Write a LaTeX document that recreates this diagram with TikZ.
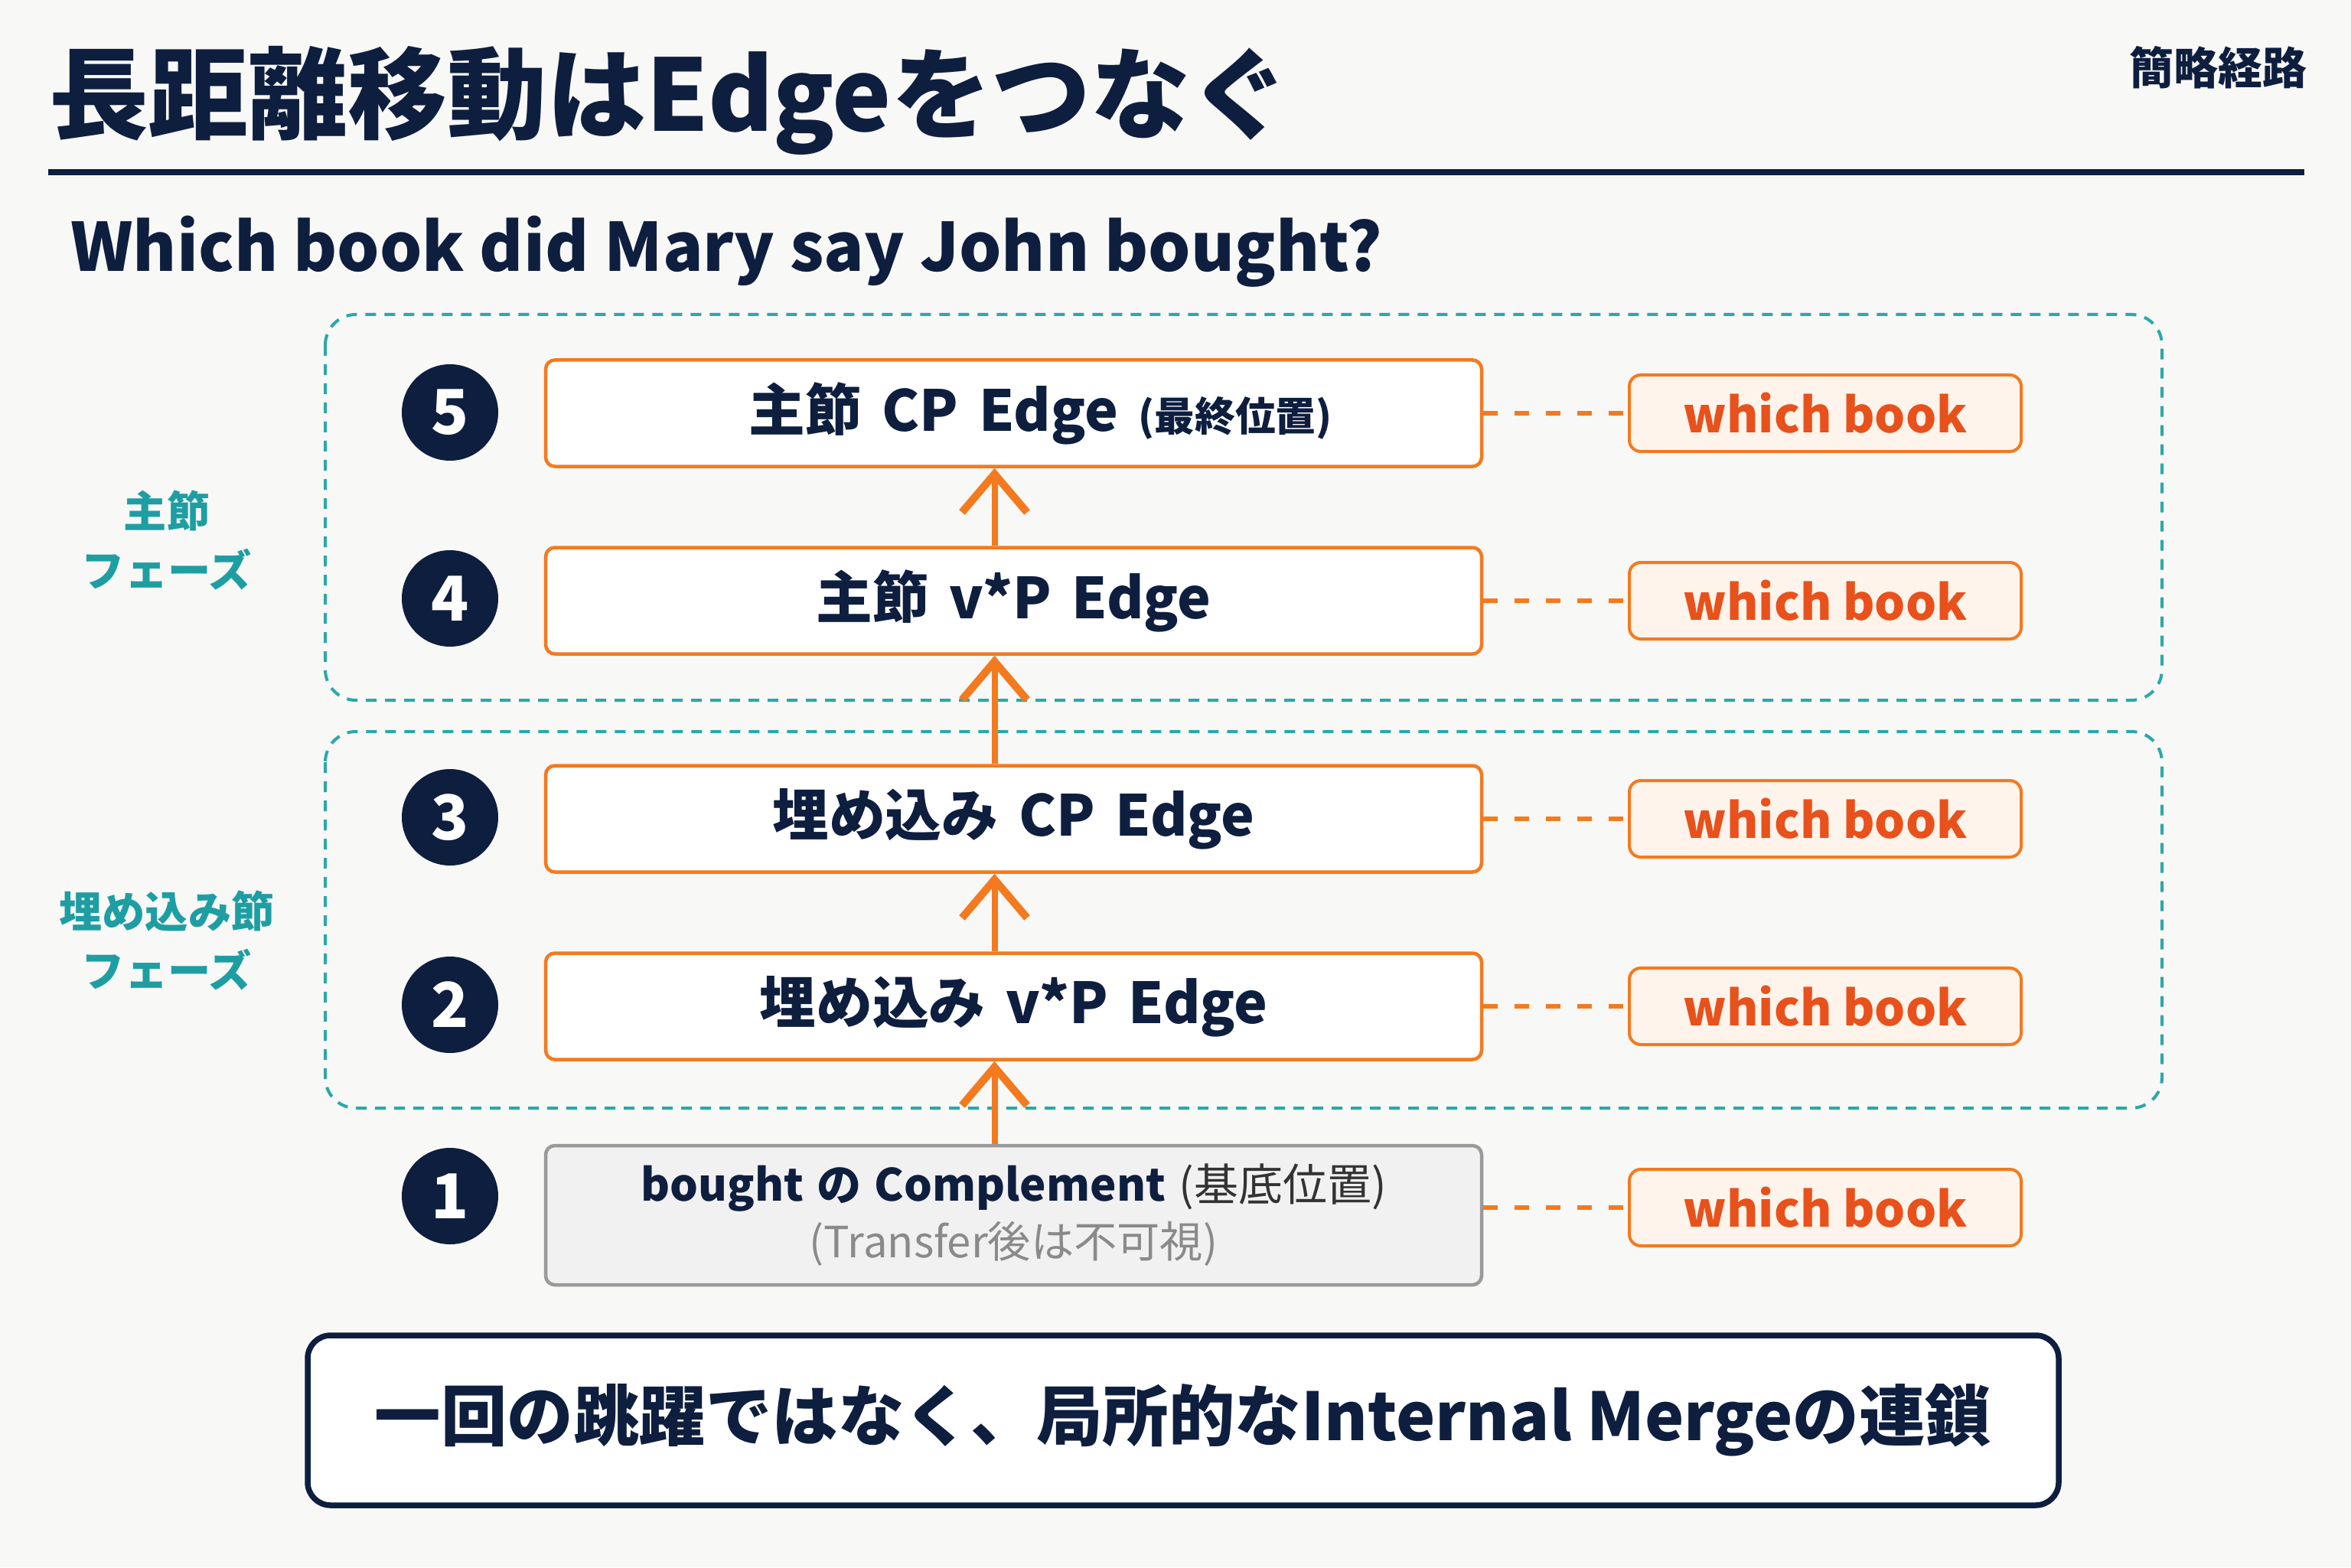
\documentclass[tikz,border=0pt]{standalone}
\usepackage{fontspec}
\setmainfont{Noto Sans CJK JP}
\usetikzlibrary{arrows.meta,positioning}

\definecolor{navy}{HTML}{0E1E3F}
\definecolor{edgeorange}{HTML}{F47A1F}
\definecolor{wbred}{HTML}{E8511B}
\definecolor{wbfill}{HTML}{FFF4EC}
\definecolor{phaseteal}{HTML}{1E9EA3}
\definecolor{dashteal}{HTML}{2BA8AB}
\definecolor{boxgrey}{HTML}{9A9A9A}
\definecolor{boxfill}{HTML}{F1F1F1}
\definecolor{textgrey}{HTML}{8A8A8A}
\definecolor{darkgrey}{HTML}{333333}
\definecolor{bgwhite}{HTML}{F8F8F6}

\tikzset{
  stepnum/.style={circle, fill=navy, text=white, minimum size=1.26cm, inner sep=0pt,
    font=\fontsize{23}{23}\selectfont\bfseries},
  edgebox/.style={draw=edgeorange, line width=0.045cm, rounded corners=0.12cm, fill=white,
    minimum width=12.23cm, minimum height=1.39cm, text=navy,
    font=\fontsize{21}{24}\selectfont\bfseries,
    execute at begin node={\spaceskip=0.36em plus 0.1em\relax}},
  basebox/.style={edgebox, draw=boxgrey, fill=boxfill, minimum height=1.82cm, align=center,
    font=\fontsize{16.5}{21}\selectfont\bfseries,
    execute at begin node={\spaceskip=0.3em plus 0.1em\relax}},
  wbbox/.style={draw=edgeorange, line width=0.04cm, fill=wbfill, rounded corners=0.15cm,
    minimum width=5.12cm, minimum height=1.0cm, text=wbred,
    font=\fontsize{18}{18}\selectfont\bfseries},
  phasebox/.style={draw=dashteal, line width=0.04cm, rounded corners=0.4cm,
    dash pattern=on 0.14cm off 0.11cm},
  phaselabel/.style={text=phaseteal, align=center, font=\fontsize{16}{22}\selectfont\bfseries},
  movearrow/.style={draw=edgeorange, line width=0.08cm,
    -{Straight Barb[length=0.5cm,width=0.85cm,line width=0.1cm]}},
  linkline/.style={draw=edgeorange, line width=0.06cm, dash pattern=on 0.19cm off 0.22cm},
}

\begin{document}
\begin{tikzpicture}
  \useasboundingbox (0,0) rectangle (30.72,20.48);
  \fill[bgwhite] (0,0) rectangle (30.72,20.48);

  % header
  \node[anchor=west, text=navy, font=\fontsize{37}{37}\selectfont\bfseries] (title) at (0.52,19.17) {長距離移動はEdgeをつなぐ};
  \node[anchor=east, text=navy, font=\fontsize{16.5}{16.5}\selectfont\bfseries] (tag) at (30.27,19.60) {簡略経路};
  \draw[navy, line width=0.08cm] (0.63,18.23) -- (30.11,18.23);
  \node[anchor=west, text=navy, font=\fontsize{24.8}{24.8}\selectfont\bfseries] (question) at (0.80,17.19) {Which book did Mary say John bought?};

  % phases
  \draw[phasebox] (4.25,16.37) rectangle (28.25,11.33);
  \draw[phasebox] (4.25,10.92) rectangle (28.25,6.00);
  \node[phaselabel] (mainphase) at (2.18,13.42) {主節\\フェーズ};
  \node[phaselabel] (embphase) at (2.18,8.19) {埋め込み節\\フェーズ};

  % steps
  \node[stepnum] (n5) at (5.88,15.09) {5};
  \node[stepnum] (n4) at (5.88,12.66) {4};
  \node[stepnum] (n3) at (5.88,9.80) {3};
  \node[stepnum] (n2) at (5.88,7.35) {2};
  \node[stepnum] (n1) at (5.88,4.85) {1};

  \node[edgebox] (b5) at (13.245,15.08) {\hspace{0.7cm}主節 CP Edge {\fontsize{15}{15}\selectfont(最終位置)}};
  \node[edgebox] (b4) at (13.245,12.63) {主節 v*P Edge\hspace{0.5cm}};
  \node[edgebox] (b3) at (13.245,9.78) {埋め込み CP Edge\hspace{0.25cm}};
  \node[edgebox] (b2) at (13.245,7.33) {埋め込み v*P Edge\hspace{0.3cm}};
  \node[basebox] (b1) at (13.245,4.60) {bought の Complement {\mdseries\color{darkgrey}(基底位置)}\\
    {\fontsize{16}{18}\selectfont\mdseries\color{textgrey}(Transfer後は不可視)}};

  \node[wbbox] (w5) at (23.85,15.08) {which book};
  \node[wbbox] (w4) at (23.85,12.63) {which book};
  \node[wbbox] (w3) at (23.85,9.78) {which book};
  \node[wbbox] (w2) at (23.85,7.33) {which book};
  \node[wbbox] (w1) at (23.85,4.70) {which book};

  \draw[linkline] (b5) -- (w5);
  \draw[linkline] (b4) -- (w4);
  \draw[linkline] (b3) -- (w3);
  \draw[linkline] (b2) -- (w2);
  \draw[linkline] (w1.west -| b1.east) -- (w1);

  \draw[movearrow] ([xshift=-0.25cm]b1.north) -- ([xshift=-0.25cm]b2.south);
  \draw[movearrow] ([xshift=-0.25cm]b2.north) -- ([xshift=-0.25cm]b3.south);
  \draw[movearrow] ([xshift=-0.25cm]b3.north) -- ([xshift=-0.25cm]b4.south);
  \draw[movearrow] ([xshift=-0.25cm]b4.north) -- ([xshift=-0.25cm]b5.south);

  % summary
  \node[draw=navy, line width=0.075cm, rounded corners=0.3cm, fill=white,
    minimum width=22.88cm, minimum height=2.22cm, text=navy,
    font=\fontsize{24.6}{24.6}\selectfont\bfseries] (summary) at (15.46,1.92)
    {一回の跳躍ではなく、局所的なInternal Mergeの連鎖};
\end{tikzpicture}
\end{document}
